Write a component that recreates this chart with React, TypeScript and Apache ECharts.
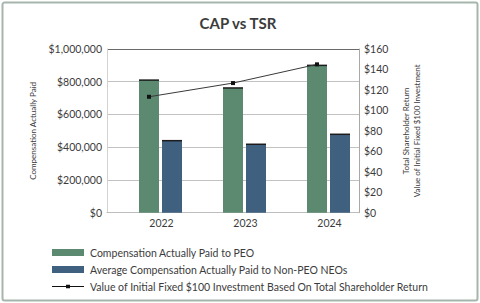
import { useEffect, useRef } from "react";
import * as echarts from "echarts";

// Fiscal years on the category axis
const years = ["2022", "2023", "2024"];
// Compensation actually paid to the PEO ($)
const peoCap = [810000, 762000, 900000];
// Average compensation actually paid to non-PEO NEOs ($)
const nonPeoCap = [440000, 418000, 479000];
// Value of an initial fixed $100 investment based on TSR ($)
const tsrValue = [113.3, 126.7, 145.0];

const seriesNames = [
  "Compensation Actually Paid to PEO",
  "Average Compensation Actually Paid to Non-PEO NEOs",
  "Value of Initial Fixed $100 Investment Based On Total Shareholder Return",
];

const GREEN = "#5b8a71";
const BLUE = "#40607f";
const TEXT = "#3c3c3c";

// Legend glyph for the TSR line: thin stroke with a small square marker
const LINE_ICON = "path://M0,3H14V1.8H18V3H32V4H18V5.2H14V4H0Z";

// Bar drawn as a filled rect with a dark cap line, shifted from the category centre
const barRenderer = (offset: number, color: string) => (_params: any, api: any) => {
  const idx = api.value(0);
  const val = api.value(1);
  const top = api.coord([idx, val]);
  const base = api.coord([idx, 0]);
  const w = 20;
  const x = top[0] + offset - w / 2;
  return {
    type: "group",
    children: [
      {
        type: "rect",
        shape: { x, y: top[1], width: w, height: base[1] - top[1] },
        style: { fill: color },
      },
      {
        type: "line",
        shape: { x1: x, y1: top[1], x2: x + w, y2: top[1] },
        style: { stroke: "#1c1c1c", lineWidth: 1.5 },
      },
    ],
  };
};

export default function App() {
  const ref = useRef<HTMLDivElement>(null);

  useEffect(() => {
    if (!ref.current) return;
    const chart = echarts.init(ref.current, undefined, { renderer: "svg" });
    const money = (v: number) => "$" + v.toLocaleString("en-US");

    chart.setOption({
      animation: false,
      backgroundColor: "#ffffff",
      textStyle: { fontFamily: "Lato" },
      title: {
        text: "CAP vs TSR",
        left: 233,
        textAlign: "center",
        top: 10,
        textStyle: { fontSize: 15, fontWeight: "bold", color: TEXT, fontFamily: "Lato" },
      },
      graphic: [
        {
          type: "rect",
          shape: { x: 2.5, y: 2.5, width: 475, height: 298, r: 2 },
          style: { fill: "none", stroke: "#a6b6ac", lineWidth: 2 },
          silent: true,
        },
      ],
      grid: { left: 107, right: 121, top: 49, bottom: 90.3 },
      legend: {
        orient: "vertical",
        left: 47,
        top: 241,
        itemWidth: 32,
        itemHeight: 7,
        itemGap: 4,
        selectedMode: false,
        textStyle: { fontSize: 10.5, color: TEXT, lineHeight: 13, padding: [0, 0, 0, 1] },
        data: [
          { name: seriesNames[0], icon: "rect" },
          { name: seriesNames[1], icon: "rect" },
          { name: seriesNames[2], icon: LINE_ICON },
        ],
      },
      xAxis: {
        type: "category",
        data: years,
        axisTick: { show: false },
        axisLine: { show: true, lineStyle: { color: "#bdbdbd", width: 1 } },
        axisLabel: { fontSize: 10.5, color: TEXT, margin: 5, padding: [0, 0, 0, 25] },
      },
      yAxis: [
        {
          type: "value",
          min: 0,
          max: 1000000,
          interval: 200000,
          position: "left",
          name: "Compensation Actually Paid",
          nameLocation: "middle",
          nameRotate: 90,
          nameGap: 65,
          nameTextStyle: { fontSize: 8, color: TEXT, lineHeight: 10 },
          axisLine: { show: true, lineStyle: { color: "#d2d2d2" } },
          axisTick: { show: false },
          axisLabel: { fontSize: 10.5, color: TEXT, margin: 5, formatter: money },
          splitLine: {
            lineStyle: {
              color: ["#c2c2c2", "#c2c2c2", "#c2c2c2", "#c2c2c2", "#c2c2c2", "#6a6a6a"],
              width: 1,
            },
          },
        },
        {
          type: "value",
          min: 0,
          max: 160,
          interval: 20,
          position: "right",
          name: "Total Shareholder Return\nValue of Initial Fixed $100 Investment",
          nameLocation: "middle",
          nameRotate: 90,
          nameGap: 41,
          nameTextStyle: { fontSize: 8, color: TEXT, lineHeight: 11 },
          axisLine: { show: true, lineStyle: { color: "#a8a8a8" } },
          axisTick: { show: false },
          axisLabel: { fontSize: 10.5, color: TEXT, margin: 5, formatter: (v: number) => "$" + v },
          splitLine: { show: false },
        },
      ],
      series: [
        {
          name: seriesNames[0],
          type: "custom",
          yAxisIndex: 0,
          itemStyle: { color: GREEN },
          encode: { x: 0, y: 1 },
          data: years.map((_, i) => [i, peoCap[i]]),
          renderItem: barRenderer(0, GREEN),
          z: 2,
        },
        {
          name: seriesNames[1],
          type: "custom",
          yAxisIndex: 0,
          itemStyle: { color: BLUE },
          encode: { x: 0, y: 1 },
          data: years.map((_, i) => [i, nonPeoCap[i]]),
          renderItem: barRenderer(23, BLUE),
          z: 2,
        },
        {
          name: seriesNames[2],
          type: "line",
          yAxisIndex: 1,
          data: tsrValue,
          symbol: "rect",
          symbolSize: 4,
          lineStyle: { color: "#3a3a3a", width: 1 },
          itemStyle: { color: "#111111" },
          z: 5,
        },
      ],
    });

    return () => chart.dispose();
  }, []);

  return (
    <div
      ref={ref}
      style={{ position: "fixed", left: 0, top: 0, width: 480, height: 303, background: "#fff" }}
    />
  );
}
